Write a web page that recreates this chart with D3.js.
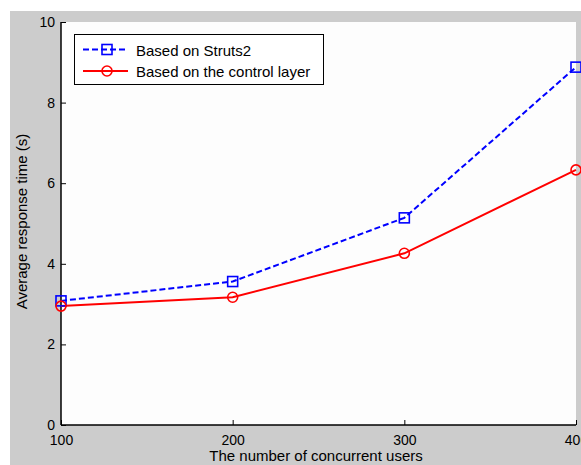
<!DOCTYPE html>
<html><head><meta charset="utf-8">
<script src="https://cdn.jsdelivr.net/npm/d3@7"></script>
<style>body{margin:0;background:#fff;} text{font-family:"Liberation Sans",Arial,sans-serif;}</style>
</head><body>
<script>
const users = [100, 200, 300, 400];
const struts2 = [3.08, 3.56, 5.14, 8.88];
const controlLayer = [2.95, 3.17, 4.26, 6.33];
const yTicks = [0, 2, 4, 6, 8, 10];
const xTicks = [100, 200, 300, 400];
const seriesNames = ["Based on Struts2", "Based on the control layer"];

const W = 581, H = 465;
const svg = d3.select("body").append("svg").attr("width", W).attr("height", H);
svg.append("rect").attr("x", 10).attr("y", 11).attr("width", W - 10).attr("height", H - 11).attr("fill", "#cccccc");

const L = 61, R = 576, T = 22, B = 425;
svg.append("rect").attr("x", L).attr("y", T).attr("width", R - L).attr("height", B - T).attr("fill", "#fdfdfd");

const x = d3.scaleLinear().domain([100, 400]).range([L, R]);
const y = d3.scaleLinear().domain([0, 10]).range([B, T]);

const tfs = "14px", fs = "15px";
const ff = '"Liberation Sans",Arial,sans-serif';
// y axis
const ya = svg.append("g").attr("transform", `translate(${L},0)`)
  .call(d3.axisLeft(y).tickValues(yTicks).tickSize(-5).tickPadding(6).tickFormat(d3.format("d")));
ya.select(".domain").attr("stroke", "#000").attr("stroke-width", 1.5).attr("d", `M0,${T}V${B}`);
ya.selectAll("text").attr("font-size", tfs).attr("fill", "#000").style("font-family", ff);
ya.selectAll("line").attr("stroke", "#000");
// x axis
const xa = svg.append("g").attr("transform", `translate(0,${B})`)
  .call(d3.axisBottom(x).tickValues(xTicks).tickSize(-5).tickPadding(10).tickFormat(d3.format("d")));
xa.select(".domain").attr("stroke", "#000").attr("stroke-width", 1.5).attr("d", `M${L},0H${R}`);
xa.selectAll("text").attr("font-size", tfs).attr("fill", "#000").style("font-family", ff);
xa.selectAll("line").attr("stroke", "#000");

// labels
svg.append("text").attr("x", 316).attr("y", 461).attr("text-anchor", "middle")
  .attr("font-size", fs).text("The number of concurrent users");
svg.append("text").attr("transform", `translate(27,${(T + B) / 2 - 2}) rotate(-90)`).attr("text-anchor", "middle")
  .attr("font-size", fs).text("Average response time (s)");

const line = d3.line().x((d, i) => x(users[i])).y(d => y(d));
svg.append("path").datum(struts2).attr("d", line).attr("fill", "none").attr("stroke", "#0000ff")
  .attr("stroke-width", 2).attr("stroke-dasharray", "6,3");
svg.append("path").datum(controlLayer).attr("d", line).attr("fill", "none").attr("stroke", "#ff0000")
  .attr("stroke-width", 2);

svg.selectAll(".sq").data(struts2).enter().append("rect")
  .attr("x", (d, i) => x(users[i]) - 5).attr("y", d => y(d) - 5).attr("width", 10).attr("height", 10)
  .attr("fill", "none").attr("stroke", "#0000ff").attr("stroke-width", 1.6);
svg.selectAll(".ci").data(controlLayer).enter().append("circle")
  .attr("cx", (d, i) => x(users[i])).attr("cy", d => y(d)).attr("r", 5)
  .attr("fill", "none").attr("stroke", "#ff0000").attr("stroke-width", 1.6);

// legend
const lg = svg.append("g");
lg.append("rect").attr("x", 74.5).attr("y", 34.5).attr("width", 249).attr("height", 50)
  .attr("fill", "#fff").attr("stroke", "#000").attr("stroke-width", 1);
const ly = [49.5, 71];
lg.append("line").attr("x1", 83).attr("x2", 128).attr("y1", ly[0]).attr("y2", ly[0])
  .attr("stroke", "#0000ff").attr("stroke-width", 2).attr("stroke-dasharray", "6,3");
lg.append("rect").attr("x", 102).attr("y", ly[0] - 5).attr("width", 10).attr("height", 10)
  .attr("fill", "none").attr("stroke", "#0000ff").attr("stroke-width", 1.6);
lg.append("line").attr("x1", 83).attr("x2", 128).attr("y1", ly[1]).attr("y2", ly[1])
  .attr("stroke", "#ff0000").attr("stroke-width", 2);
lg.append("circle").attr("cx", 107).attr("cy", ly[1]).attr("r", 5)
  .attr("fill", "none").attr("stroke", "#ff0000").attr("stroke-width", 1.6);
seriesNames.forEach((n, i) => {
  lg.append("text").attr("x", 136).attr("y", ly[i] + 6).attr("font-size", fs).text(n);
});
</script>
</body></html>
